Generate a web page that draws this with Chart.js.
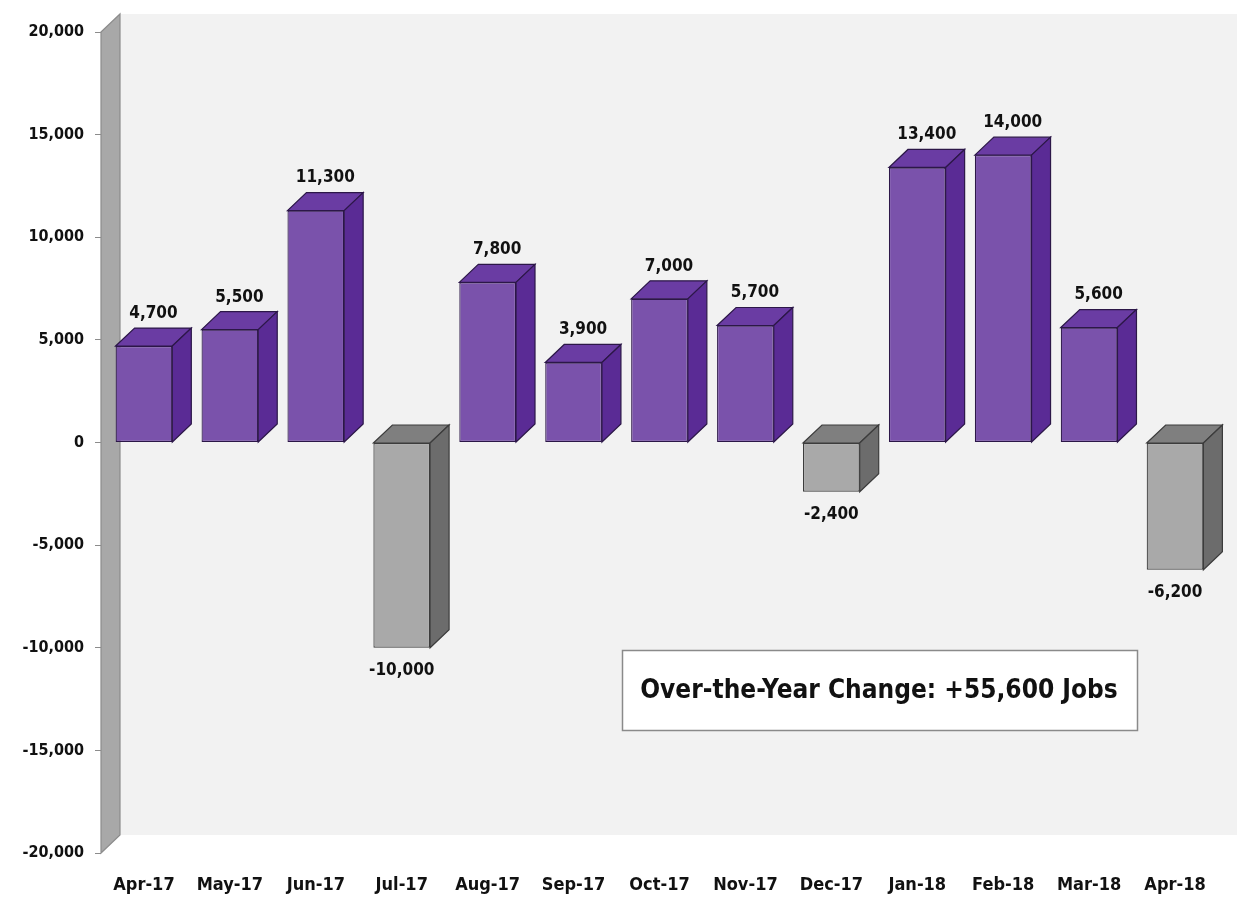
<!DOCTYPE html>
<html>
<head>
<meta charset="utf-8">
<script src="https://cdn.jsdelivr.net/npm/chart.js@4/dist/chart.umd.min.js"></script>
<style>
  html, body { margin: 0; padding: 0; background: #fff; }
  #wrap { width: 1246px; height: 897px; position: relative; }
</style>
</head>
<body>
<div id="wrap"><canvas id="chartCanvas" width="1246" height="897"></canvas></div>
<script>
// monthly change in jobs
const months = ["Apr-17", "May-17", "Jun-17", "Jul-17", "Aug-17", "Sep-17", "Oct-17",
  "Nov-17", "Dec-17", "Jan-18", "Feb-18", "Mar-18", "Apr-18"];
const jobChange = [4700, 5500, 11300, -10000, 7800, 3900, 7000, 5700, -2400, 13400, 14000, 5600, -6200];
const yTickValues = [-20000, -15000, -10000, -5000, 0, 5000, 10000, 15000, 20000];
const noteText = "Over-the-Year Change: +55,600 Jobs";

const FONT = "'Liberation Sans Narrow', 'Arial Narrow', 'DejaVu Sans Condensed', sans-serif";
const DX = 19, DY = 18;

const purple = { front: "#7a52ab", top: "#6a3ca3", side: "#5a2b95", edge: "#2c1748" };
const grey = { front: "#a9a9a9", top: "#7f7f7f", side: "#6c6c6c", edge: "#3c3c3c" };
const pick = (v) => (v < 0 ? grey : purple);

function poly(ctx, pts, fill, stroke) {
  ctx.beginPath();
  ctx.moveTo(pts[0][0], pts[0][1]);
  for (let i = 1; i < pts.length; i++) ctx.lineTo(pts[i][0], pts[i][1]);
  ctx.closePath();
  ctx.fillStyle = fill;
  ctx.fill();
  ctx.lineWidth = 1.2;
  ctx.strokeStyle = stroke;
  ctx.stroke();
}

// back wall + left side wall
const wallPlugin = {
  id: "walls",
  beforeDraw(chart) {
    const { ctx, chartArea: a } = chart;
    ctx.save();
    ctx.fillStyle = "#f2f2f2";
    ctx.fillRect(a.left + DX, a.top - DY, a.right - a.left, a.bottom - a.top);
    poly(ctx, [[a.left, a.top], [a.left + DX, a.top - DY], [a.left + DX, a.bottom - DY], [a.left, a.bottom]],
      "#a8a8a8", "#8c8c8c");
    ctx.restore();
  },
};

// top/side faces of the bars, value labels, note box
const boxPlugin = {
  id: "bars3d",
  afterDatasetsDraw(chart) {
    const { ctx } = chart;
    const meta = chart.getDatasetMeta(0);
    ctx.save();
    meta.data.forEach((bar, i) => {
      const v = jobChange[i];
      const c = pick(v);
      const { x, y, base, width } = bar.getProps(["x", "y", "base", "width"], true);
      const l = x - width / 2, r = x + width / 2;
      const t = Math.min(y, base), b = Math.max(y, base);
      poly(ctx, [[l, t], [l + DX, t - DY], [r + DX, t - DY], [r, t]], c.top, c.edge);
      poly(ctx, [[r, t], [r + DX, t - DY], [r + DX, b - DY], [r, b]], c.side, c.edge);

      ctx.fillStyle = "#111";
      ctx.font = "bold 17px " + FONT;
      ctx.textAlign = "center";
      const txt = v.toLocaleString("en-US");
      if (v >= 0) {
        ctx.textBaseline = "bottom";
        ctx.fillText(txt, x + DX / 2, t - DY - 6);
      } else {
        ctx.textBaseline = "top";
        ctx.fillText(txt, x, b + 14);
      }
    });
    ctx.restore();
  },
  afterDraw(chart) {
    const { ctx } = chart;
    ctx.save();
    ctx.fillStyle = "#fff";
    ctx.fillRect(622, 650, 515, 80);
    ctx.strokeStyle = "#8a8a8a";
    ctx.lineWidth = 1.5;
    ctx.strokeRect(622.5, 650.5, 515, 80);
    ctx.fillStyle = "#111";
    ctx.font = "bold 26px " + FONT;
    ctx.textAlign = "center";
    ctx.textBaseline = "middle";
    ctx.fillText(noteText, 879, 691);
    ctx.restore();
  },
};

const ctx = document.getElementById("chartCanvas").getContext("2d");
new Chart(ctx, {
  type: "bar",
  data: {
    labels: months,
    datasets: [{
      data: jobChange,
      backgroundColor: jobChange.map((v) => pick(v).front),
      borderColor: jobChange.map((v) => pick(v).edge),
      borderWidth: 1.2,
      borderSkipped: false,
      barPercentage: 0.66,
      categoryPercentage: 1,
    }],
  },
  options: {
    responsive: false,
    animation: false,
    layout: { padding: { top: 32, right: 28, left: 0, bottom: 0 } },
    plugins: { legend: { display: false }, tooltip: { enabled: false } },
    scales: {
      x: {
        grid: { display: false },
        border: { display: false },
        ticks: { color: "#111", font: { family: FONT, size: 18, weight: "bold" }, padding: 14, maxRotation: 0 },
        afterFit(s) { s.height = 44; },
      },
      y: {
        min: -20000,
        max: 20000,
        afterBuildTicks(s) { s.ticks = yTickValues.map((v) => ({ value: v })); },
        grid: { drawOnChartArea: false, color: "#8c8c8c", tickLength: 6 },
        border: { display: false },
        ticks: {
          color: "#111",
          font: { family: FONT, size: 16, weight: "bold" },
          padding: 11,
          callback: (v) => v.toLocaleString("en-US"),
        },
        afterFit(s) { s.width = 101; },
      },
    },
  },
  plugins: [wallPlugin, boxPlugin],
});
</script>
</body>
</html>
